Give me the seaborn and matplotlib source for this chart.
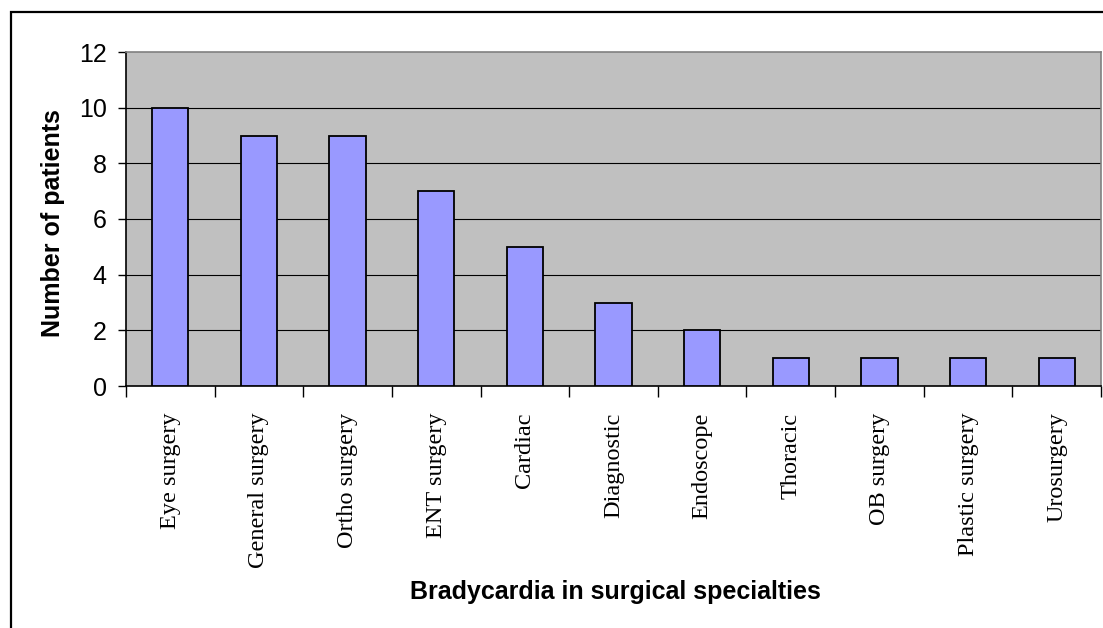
import seaborn as sns
import pandas as pd
import matplotlib.pyplot as plt
from matplotlib.patches import Rectangle

specialties = ["Eye surgery", "General surgery", "Ortho surgery", "ENT surgery",
               "Cardiac", "Diagnostic", "Endoscope", "Thoracic", "OB surgery",
               "Plastic surgery", "Urosurgery"]
patients = [10, 9, 9, 7, 5, 3, 2, 1, 1, 1, 1]
y_ticks = [0, 2, 4, 6, 8, 10, 12]


def grafico_bradicardia(dataframe):
    sns.set_style("white")
    plt.rcParams['font.family'] = ['Liberation Sans', 'DejaVu Sans']
    for key in ['text.color', 'axes.labelcolor', 'xtick.color', 'ytick.color']:
        plt.rcParams[key] = 'black'

    fig = plt.figure(figsize=(11.03, 6.28), dpi=100)
    ax = fig.add_axes([126 / 1103, 1 - 386 / 628, 975 / 1103, 334 / 628])
    ax.set_facecolor("#C0C0C0")

    sns.barplot(data=dataframe, x="specialty", y="patients", color="#9999FF",
                edgecolor="black", linewidth=1.3, width=0.41, saturation=1, ax=ax, zorder=3)

    ax.set_ylim(0, 12)
    ax.set_xlim(-0.5, len(specialties) - 0.5)
    ax.set_yticks(y_ticks)
    ax.set_yticklabels([str(t) for t in y_ticks], fontsize=18)
    ax.tick_params(axis="y", direction="out", length=6, width=1, pad=8, color="black", left=True)
    for t in y_ticks[1:-1]:
        ax.axhline(t, color="black", linewidth=0.8, zorder=1)

    # category boundaries get the tick marks, labels sit at the centres
    ax.set_xticks([i - 0.5 for i in range(len(specialties) + 1)])
    ax.set_xticklabels([])
    ax.tick_params(axis="x", which="major", direction="out", length=8, width=1,
                   color="black", bottom=True)
    ax.set_xticks(range(len(specialties)), minor=True)
    ax.set_xticklabels(specialties, minor=True, rotation=90, fontsize=17.5,
                       family=["Liberation Serif", "DejaVu Serif"])
    ax.tick_params(axis="x", which="minor", length=0, pad=19)

    for side in ["left", "bottom"]:
        ax.spines[side].set_color("black")
        ax.spines[side].set_linewidth(1.2)
    for side in ["top", "right"]:
        ax.spines[side].set_color("#808080")
        ax.spines[side].set_linewidth(1.2)

    ax.set_xlabel("Bradycardia in surgical specialties", fontsize=18, fontweight="bold")
    ax.xaxis.set_label_coords((615 - 126) / 975, (386 - 592) / 334)
    ax.xaxis.label.set_va("center")
    ax.set_ylabel("Number of patients", fontsize=18, fontweight="bold")
    ax.yaxis.set_label_coords((53 - 126) / 975, (386 - 223) / 334)
    ax.yaxis.label.set_va("center")

    border = Rectangle((11 / 1103, -0.2), 1.2, 1.2 - 12 / 628, transform=fig.transFigure,
                       fill=False, edgecolor="black", linewidth=1.6, clip_on=False)
    fig.patches.append(border)

    fig.savefig("out.png", dpi=100, facecolor="white")


df = pd.DataFrame({"specialty": specialties, "patients": patients})
grafico_bradicardia(df)
